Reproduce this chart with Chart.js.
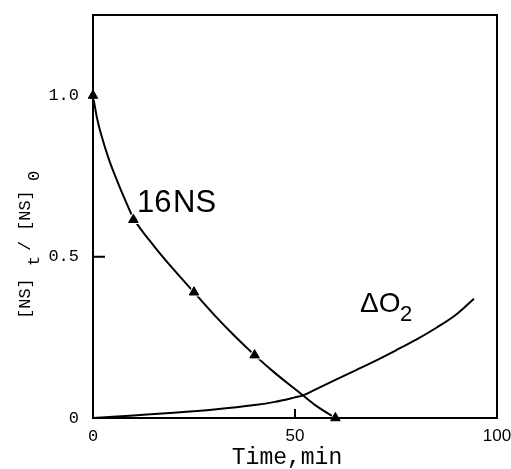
<!DOCTYPE html>
<html lang="en">
<head>
  <meta charset="UTF-8" />
  <title>16NS decay and O2 uptake</title>
  <style>
    html, body { margin: 0; padding: 0; background: #fff; }
    #wrap { width: 511px; height: 469px; position: relative; }
  </style>
</head>
<body>
  <div id="wrap"><canvas id="chart"></canvas></div>

  <script src="https://cdn.jsdelivr.net/npm/chart.js"></script>
  <script>
    // values
    const nsTime  = [0, 1, 2, 4, 6, 8, 10, 15, 20, 25, 30, 35, 40, 45, 50, 52, 55, 60];
    const nsCurve = [1.0, 0.93, 0.88, 0.8, 0.735, 0.675, 0.62, 0.535, 0.46, 0.39, 0.32, 0.255, 0.195, 0.14, 0.09, 0.07, 0.04, 0.0];
    const nsMarkTime = [0, 10, 25, 40, 60];
    const nsMarkVal  = [1.0, 0.615, 0.39, 0.195, 0.0];
    const o2Time  = [0, 10, 20, 30, 40, 45, 50, 52, 55, 60, 65, 70, 75, 80, 85, 90, 94.3];
    const o2Curve = [0, 0.008, 0.016, 0.026, 0.04, 0.05, 0.064, 0.07, 0.088, 0.118, 0.148, 0.178, 0.21, 0.243, 0.28, 0.322, 0.37];
    const xTicks = [0, 50, 100];
    const yTicks = [0, 0.5, 1.0];
    const yTickText = ['0', '0.5', '1.0'];

    const pts = (xs, ys) => xs.map((x, i) => ({ x: x, y: ys[i] }));

    const mono = "'Liberation Mono', 'DejaVu Sans Mono', monospace";
    const sans = "'Liberation Sans', Arial, sans-serif";

    // frame, inward ticks and the hand-set labels
    const decor = {
      id: 'decor',
      afterDraw(chart) {
        const { ctx, chartArea: a, scales } = chart;
        const xs = scales.x, ys = scales.y;
        ctx.save();
        ctx.strokeStyle = '#000';
        ctx.lineWidth = 2;
        ctx.strokeRect(a.left, a.top, a.right - a.left, a.bottom - a.top);

        // inner ticks
        ctx.beginPath();
        const ty = ys.getPixelForValue(0.5);
        ctx.moveTo(a.left, ty); ctx.lineTo(a.left + 12, ty);
        const tx = xs.getPixelForValue(50);
        ctx.moveTo(tx, a.bottom); ctx.lineTo(tx, a.bottom - 9);
        ctx.stroke();

        ctx.fillStyle = '#000';
        // curve names
        ctx.font = "31px " + sans;
        ctx.textBaseline = 'alphabetic';
        ctx.textAlign = 'left';
        ctx.fillText('16', 137, 212);
        ctx.fillText('NS', 173, 212);
        ctx.font = "28px " + sans;
        ctx.fillText('\u0394O', 360, 312);
        ctx.font = "22px " + sans;
        ctx.fillText('2', 400, 321);

        // x title
        ctx.font = "23px " + mono;
        ctx.textAlign = 'center';
        ctx.textBaseline = 'middle';
        ctx.fillText('Time,min', 287, 458);

        // y title, rotated, with subscripts
        ctx.translate(30, 319);
        ctx.rotate(-Math.PI / 2);
        ctx.textAlign = 'left';
        ctx.textBaseline = 'alphabetic';
        ctx.font = "17px " + mono;
        ctx.fillText('[NS]', 0, 0);
        ctx.fillText('t', 53, 9);
        ctx.fillText('/', 68, 0);
        ctx.fillText('[NS]', 88, 0);
        ctx.fillText('0', 138, 9);
        ctx.restore();
      }
    };

    new Chart(document.getElementById('chart'), {
      type: 'scatter',
      data: {
        datasets: [
          {
            label: '16NS curve',
            data: pts(nsTime, nsCurve),
            showLine: true,
            borderColor: '#000',
            borderWidth: 2,
            pointRadius: 0,
            cubicInterpolationMode: 'monotone',
            order: 3
          },
          {
            label: 'halo',
            data: pts(nsMarkTime, nsMarkVal),
            showLine: false,
            pointStyle: 'triangle',
            pointRadius: 7.5,
            backgroundColor: '#fff',
            borderColor: '#fff',
            borderWidth: 1,
            order: 2
          },
          {
            label: '16NS',
            data: pts(nsMarkTime, nsMarkVal),
            showLine: false,
            pointStyle: 'triangle',
            pointRadius: 5.5,
            backgroundColor: '#000',
            borderColor: '#000',
            borderWidth: 1,
            order: 1
          },
          {
            label: 'O2',
            data: pts(o2Time, o2Curve),
            showLine: true,
            borderColor: '#000',
            borderWidth: 2,
            pointRadius: 0,
            cubicInterpolationMode: 'monotone',
            order: 4
          }
        ]
      },
      options: {
        responsive: true,
        maintainAspectRatio: false,
        animation: false,
        clip: false,
        layout: { padding: { left: 0, top: 15, right: 14, bottom: 0 } },
        plugins: {
          legend: { display: false },
          tooltip: { enabled: false }
        },
        scales: {
          x: {
            type: 'linear',
            min: 0,
            max: 100,
            afterBuildTicks: s => { s.ticks = xTicks.map(v => ({ value: v })); },
            afterFit: s => { s.height = 51; s.paddingLeft = 0; s.paddingRight = 0; },
            grid: { display: false, drawTicks: false },
            border: { display: false },
            ticks: {
              padding: 8,
              color: '#000',
              maxRotation: 0,
              font: c => (c.tick && c.tick.value === 0)
                ? { family: mono, size: 17 }
                : { family: sans, size: 17 }
            }
          },
          y: {
            type: 'linear',
            min: 0,
            max: 1.25,
            afterBuildTicks: s => { s.ticks = yTicks.map(v => ({ value: v })); },
            afterFit: s => { s.width = 93; s.paddingTop = 0; s.paddingBottom = 0; },
            grid: { display: false, drawTicks: false },
            border: { display: false },
            ticks: {
              padding: 14,
              color: '#000',
              font: { family: mono, size: 17 },
              callback: v => yTickText[yTicks.indexOf(v)]
            }
          }
        }
      },
      plugins: [decor]
    });
  </script>
</body>
</html>
